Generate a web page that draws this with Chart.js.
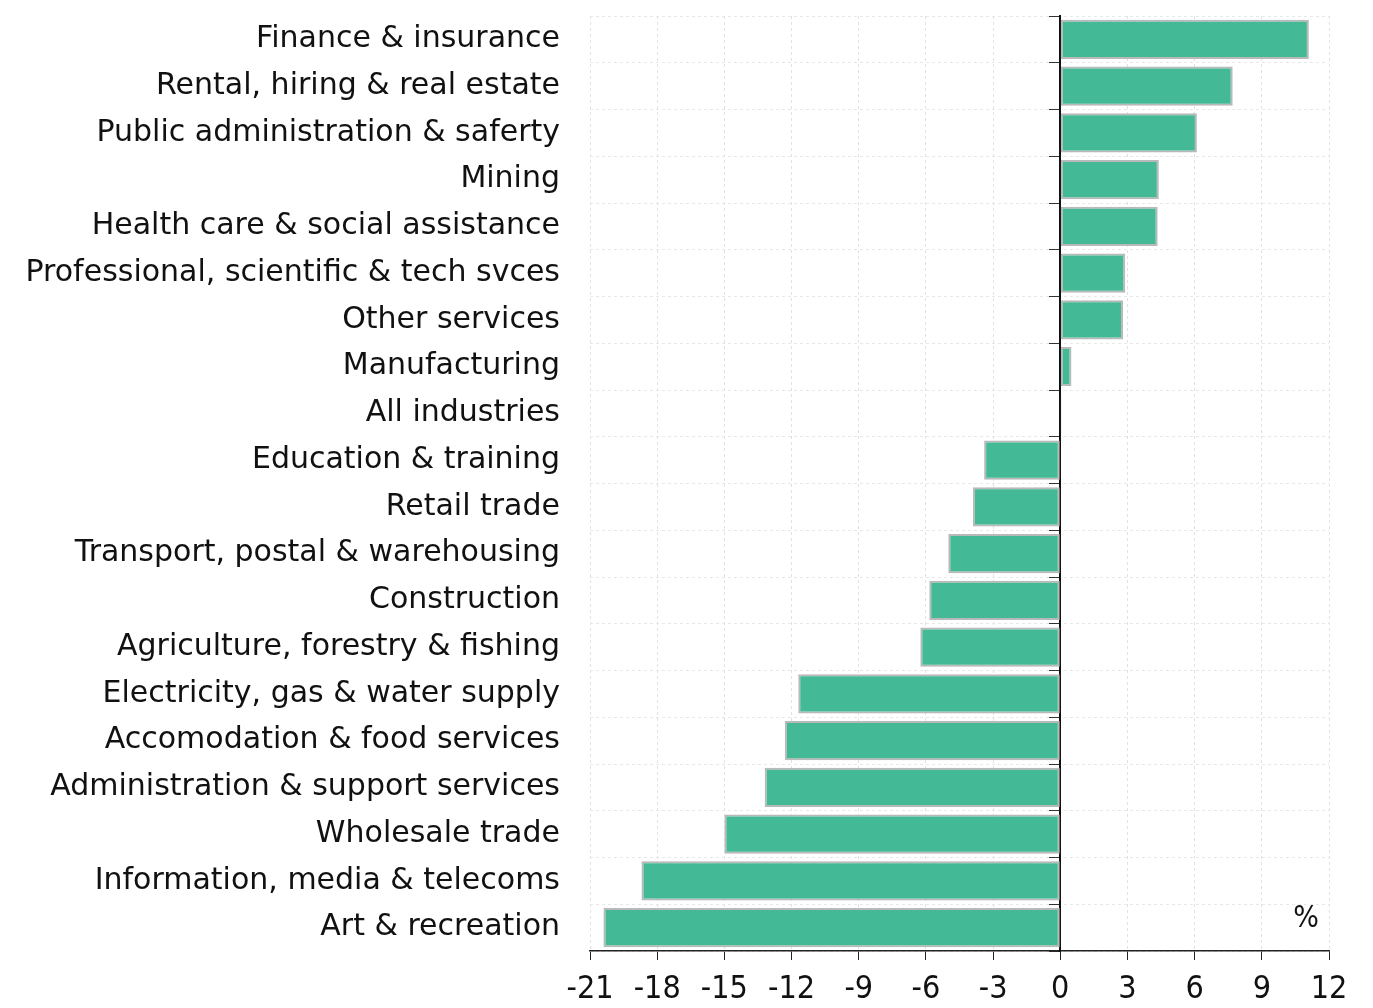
<!DOCTYPE html>
<html>
<head>
<meta charset="utf-8">
<script src="https://cdn.jsdelivr.net/npm/chart.js@4"></script>
<style>
html,body{margin:0;padding:0;background:#fff;}
#wrap{width:1373px;height:1008px;position:relative;}
</style>
</head>
<body>
<div id="wrap"><canvas id="c" width="1373" height="1008"></canvas></div>
<script>
const categories = [
  "Finance & insurance",
  "Rental, hiring & real estate",
  "Public administration & saferty",
  "Mining",
  "Health care & social assistance",
  "Professional, scientific & tech svces",
  "Other services",
  "Manufacturing",
  "All industries",
  "Education & training",
  "Retail trade",
  "Transport, postal & warehousing",
  "Construction",
  "Agriculture, forestry & fishing",
  "Electricity, gas & water supply",
  "Accomodation & food services",
  "Administration & support services",
  "Wholesale trade",
  "Information, media & telecoms",
  "Art & recreation"
];
const values = [11.1, 7.7, 6.1, 4.4, 4.35, 2.9, 2.8, 0.5, 0.05, -3.4, -3.9, -5.0, -5.85, -6.25, -11.7, -12.3, -13.2, -15.0, -18.7, -20.4];
const xTicks = [-21, -18, -15, -12, -9, -6, -3, 0, 3, 6, 9, 12];
const unitLabel = "%";

const FONT = "DejaVu Sans";
const TICKFONT = "'Liberation Sans Narrow', 'DejaVu Sans Condensed', 'DejaVu Sans'";

const unitPlugin = {
  id: 'unitLabel',
  afterDraw(chart) {
    const {ctx, chartArea} = chart;
    ctx.save();
    ctx.font = "30px " + TICKFONT;
    ctx.fillStyle = "#111";
    ctx.textAlign = "right";
    ctx.textBaseline = "middle";
    ctx.fillText(unitLabel, chartArea.right - 10, chart.scales.y.getPixelForValue(categories.length - 1) - 8);
    ctx.restore();
  }
};

new Chart(document.getElementById('c'), {
  type: 'bar',
  data: {
    labels: categories,
    datasets: [{
      data: values,
      yAxisID: 'y',
      backgroundColor: '#43b995',
      borderColor: '#b9b9b9',
      borderWidth: 2,
      borderSkipped: false,
      barPercentage: 0.84,
      categoryPercentage: 1.0
    }]
  },
  options: {
    indexAxis: 'y',
    responsive: false,
    animation: false,
    layout: {padding: {top: 16, right: 44, left: 0, bottom: 0}},
    plugins: {legend: {display: false}, tooltip: {enabled: false}},
    scales: {
      x: {
        type: 'linear',
        min: -21, max: 12,
        afterBuildTicks(scale) { scale.ticks = xTicks.map(v => ({value: v})); },
        afterFit(scale) { scale.height = 57; scale.paddingLeft = 0; scale.paddingRight = 0; },
        border: {display: true, color: '#222', width: 1.5, dash: [3, 3]},
        grid: {color: '#e2e2e2', lineWidth: 1, tickLength: 9, tickColor: '#222', tickBorderDash: [], drawTicks: true},
        ticks: {font: {family: TICKFONT, size: 32}, color: '#111', padding: 10, maxRotation: 0}
      },
      y: {
        type: 'category',
        position: 'left',
        offset: true,
        afterFit(scale) { scale.width = 590; scale.paddingTop = 0; scale.paddingBottom = 0; },
        border: {display: false, dash: [3, 3]},
        grid: {color: '#e8e8e8', lineWidth: 1, drawTicks: false, offset: true},
        ticks: {font: {family: FONT, size: 30}, color: '#111', padding: 30, autoSkip: false}
      },
      y2: {
        type: 'category',
        labels: categories,
        position: {x: 0},
        offset: true,
        border: {display: true, color: '#111', width: 2},
        grid: {drawOnChartArea: false, drawTicks: true, tickLength: 10, color: '#333', offset: true},
        ticks: {display: false}
      }
    }
  },
  plugins: [unitPlugin]
});
</script>
</body>
</html>
